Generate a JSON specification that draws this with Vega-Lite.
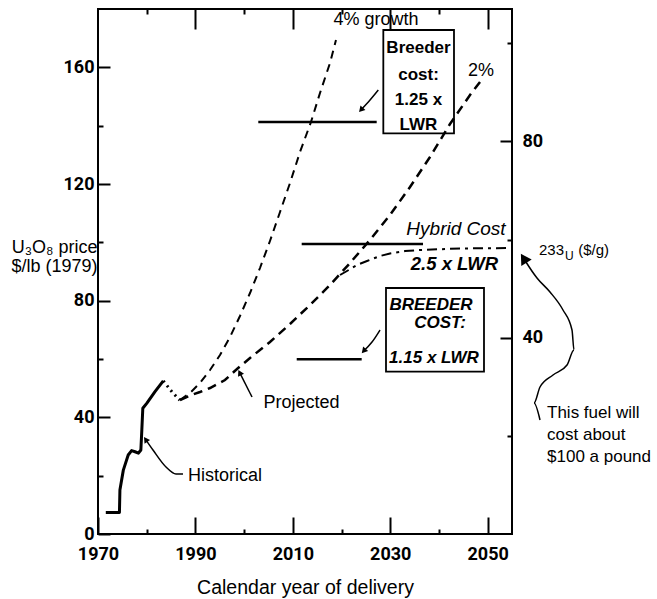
{
  "$schema": "https://vega.github.io/schema/vega-lite/v6.json",
  "width": 414,
  "height": 525,
  "autosize": "none",
  "padding": {"left": 98, "top": 9, "right": 145, "bottom": 65},
  "background": "white",
  "config": {
    "view": {"stroke": "black", "strokeWidth": 2},
    "font": "Liberation Sans",
    "text": {"font": "Liberation Sans", "color": "black"},
    "axis": {"domain": false, "grid": false, "ticks": true, "tickColor": "black", "tickWidth": 2, "labelColor": "black", "titleColor": "black", "zindex": 1}
  },
  "datasets": {
    "hist": [
      {"year": 1971.6, "price": 7.4}, {"year": 1974.4, "price": 7.4}, {"year": 1974.5, "price": 15.1},
      {"year": 1975.2, "price": 21.9}, {"year": 1976.2, "price": 27.1}, {"year": 1976.9, "price": 28.6},
      {"year": 1977.6, "price": 28.2}, {"year": 1978.3, "price": 27.7}, {"year": 1978.8, "price": 28.8},
      {"year": 1979.0, "price": 35.7}, {"year": 1979.2, "price": 43.1}, {"year": 1980.0, "price": 44.8},
      {"year": 1981.7, "price": 48.8}, {"year": 1983.4, "price": 52.5}
    ],
    "link": [
      {"year": 1983.4, "price": 52.5}, {"year": 1985.2, "price": 48.7}, {"year": 1986.8, "price": 45.9}
    ],
    "g4": [
      {"year": 1986.84, "price": 45.94}, {"year": 1988.89, "price": 48.34}, {"year": 1990.94, "price": 51.77},
      {"year": 1993.0, "price": 56.23}, {"year": 1995.05, "price": 61.37}, {"year": 1997.1, "price": 67.54},
      {"year": 1999.15, "price": 74.74}, {"year": 2001.21, "price": 82.63}, {"year": 2003.26, "price": 91.2},
      {"year": 2005.31, "price": 100.46}, {"year": 2007.37, "price": 110.4}, {"year": 2009.42, "price": 120.34},
      {"year": 2011.47, "price": 130.97}, {"year": 2013.73, "price": 141.26}, {"year": 2015.58, "price": 151.2},
      {"year": 2017.63, "price": 161.48}, {"year": 2018.86, "price": 169.37}
    ],
    "g2": [
      {"year": 1986.84, "price": 45.94}, {"year": 1988.89, "price": 47.49}, {"year": 1990.94, "price": 48.69},
      {"year": 1993.0, "price": 50.06}, {"year": 1996.07, "price": 52.8}, {"year": 1998.54, "price": 56.57},
      {"year": 2001.21, "price": 60.34}, {"year": 2005.31, "price": 65.83}, {"year": 2009.42, "price": 72.0},
      {"year": 2013.52, "price": 78.51}, {"year": 2017.63, "price": 85.37}, {"year": 2021.74, "price": 92.91},
      {"year": 2025.84, "price": 100.8}, {"year": 2029.95, "price": 109.37}, {"year": 2034.06, "price": 118.97},
      {"year": 2038.16, "price": 129.26}, {"year": 2042.27, "price": 140.57}, {"year": 2046.38, "price": 150.51},
      {"year": 2049.04, "price": 156.34}
    ],
    "hyb": [
      {"year": 2019.69, "price": 88.8}, {"year": 2021.12, "price": 90.17}, {"year": 2023.18, "price": 92.23},
      {"year": 2025.23, "price": 93.6}, {"year": 2027.9, "price": 95.31}, {"year": 2029.95, "price": 96.17},
      {"year": 2033.03, "price": 97.03}, {"year": 2036.11, "price": 97.37}, {"year": 2044.32, "price": 97.89},
      {"year": 2055.0, "price": 98.06}
    ],
    "costs": [
      {"name": "Hybrid", "year": 2011.82, "year2": 2036.73, "price": 99.43},
      {"name": "Breeder 1.25", "year": 2002.91, "year2": 2027.22, "price": 141.26},
      {"name": "Breeder 1.15", "year": 2010.8, "year2": 2024.14, "price": 59.9}
    ],
    "boxes": [
      {"year": 2028.58, "year2": 2043.09, "price": 172.8, "price2": 137.38},
      {"year": 2029.13, "year2": 2049.25, "price": 84.34, "price2": 55.64}
    ],
    "arrows": [
      {"id": "h", "i": 0, "year": 1987.45, "price": 20.57}, {"id": "h", "i": 1, "year": 1986.01, "price": 20.57},
      {"id": "h", "i": 2, "year": 1983.96, "price": 22.97}, {"id": "h", "i": 3, "year": 1981.29, "price": 28.8},
      {"id": "h", "i": 4, "year": 1979.78, "price": 32.4},
      {"id": "p", "i": 0, "year": 2001.62, "price": 46.97}, {"id": "p", "i": 1, "year": 1999.09, "price": 55.3},
      {"id": "b1", "i": 0, "year": 2027.55, "price": 152.23}, {"id": "b1", "i": 1, "year": 2025.85, "price": 148.8},
      {"id": "b1", "i": 2, "year": 2024.0, "price": 145.4},
      {"id": "b2", "i": 0, "year": 2027.9, "price": 69.94}, {"id": "b2", "i": 1, "year": 2026.26, "price": 65.83},
      {"id": "b2", "i": 2, "year": 2024.55, "price": 62.74},
      {"id": "big", "i": 0, "year": 2060.75, "price": 39.09}, {"id": "big", "i": 1, "year": 2059.52, "price": 44.91},
      {"id": "big", "i": 2, "year": 2060.75, "price": 50.4}, {"id": "big", "i": 3, "year": 2063.42, "price": 54.51},
      {"id": "big", "i": 4, "year": 2066.3, "price": 57.94}, {"id": "big", "i": 5, "year": 2067.73, "price": 63.08},
      {"id": "big", "i": 6, "year": 2067.32, "price": 69.94}, {"id": "big", "i": 7, "year": 2065.47, "price": 76.8},
      {"id": "big", "i": 8, "year": 2062.8, "price": 82.97}, {"id": "big", "i": 9, "year": 2060.13, "price": 87.77},
      {"id": "big", "i": 10, "year": 2057.87, "price": 93.26}, {"id": "big", "i": 11, "year": 2057.4, "price": 94.52}
    ],
    "heads": [
      {"year": 1979.78, "price": 32.4, "dir": 325},
      {"year": 1999.09, "price": 55.3, "dir": 333},
      {"year": 2024.0, "price": 145.4, "dir": 222},
      {"year": 2024.55, "price": 62.74, "dir": 222}
    ],
    "bighead": [
      {"year": 2057.4, "price": 94.52, "dir": 328}
    ],
    "labels": [
      {"t": "4% growth", "year": 2027.08, "price": 176.23},
      {"t": "2%", "year": 2048.63, "price": 158.74},
      {"t": "Projected", "year": 2011.78, "price": 44.91},
      {"t": "Historical", "year": 1996.07, "price": 19.89}
    ],
    "box1text": [
      {"t": "Breeder", "year": 2035.8, "price": 166.63},
      {"t": "cost:", "year": 2035.8, "price": 157.37},
      {"t": "1.25 x", "year": 2035.8, "price": 148.8},
      {"t": "LWR", "year": 2035.8, "price": 140.23}
    ],
    "hand": [
      {"t": "BREEDER", "year": 2038.37, "price": 78.51},
      {"t": "COST:", "year": 2040.22, "price": 72.34},
      {"t": "1.15 x LWR", "year": 2038.98, "price": 60.34}
    ],
    "hand2": [
      {"t": "2.5 x LWR", "year": 2043.19, "price": 92.57}
    ],
    "hybridlabel": [
      {"t": "Hybrid Cost", "year": 2043.5, "price": 104.57}
    ],
    "right": [
      {"t": "This fuel will", "year": 2062.19, "price": 41.49},
      {"t": "cost about", "year": 2062.19, "price": 33.94},
      {"t": "$100 a pound", "year": 2062.19, "price": 26.4}
    ],
    "unit": [
      {"t": "233", "year": 2060.54, "price": 97.37},
      {"t": "($/g)", "year": 2068.6, "price": 97.37}
    ],
    "sub": [
      {"t": "U", "year": 2065.9, "price": 95.3}
    ],
    "dummy": [
      {"year": 2000, "u": 50, "price": 50}
    ]
  },
  "layer": [
    {
      "encoding": {
        "x": {
          "field": "year", "type": "quantitative",
          "scale": {"domain": [1970, 2055], "nice": false, "zero": false},
          "axis": {
            "orient": "bottom",
            "values": [1970, 1990, 2010, 2030, 2050],
            "format": "d",
            "offset": -17, "tickSize": 17,
            "labelFlush": false,
            "labelPadding": 11,
            "labelFont": "Roboto", "labelFontSize": 18, "labelFontWeight": "bold",
            "title": "Calendar year of delivery",
            "titleFont": "Liberation Sans", "titleFontSize": 19.5, "titleFontWeight": "normal",
            "titlePadding": 15
          }
        },
        "y": {
          "field": "price", "type": "quantitative",
          "scale": {"domain": [0, 180], "nice": false, "zero": true},
          "axis": {
            "orient": "left",
            "values": [0, 40, 80, 120, 160],
            "offset": -12, "tickSize": 12,
            "labelPadding": 4,
            "labelFont": "Roboto", "labelFontSize": 18, "labelFontWeight": "bold",
            "title": ["U₃O₈ price", "$/lb (1979)"],
            "titleFont": "Liberation Sans", "titleFontSize": 18, "titleFontWeight": "normal",
            "titleAngle": 0, "titleAlign": "right", "titleBaseline": "top",
            "titleX": -13, "titleY": 229, "titleLineHeight": 19
          }
        }
      },
      "layer": [
        {"data": {"name": "hist"}, "mark": {"type": "line", "color": "black", "strokeWidth": 3, "strokeJoin": "round"}},
        {"data": {"name": "link"}, "mark": {"type": "line", "color": "black", "strokeWidth": 3, "strokeDash": [2, 4]}},
        {"data": {"name": "g4"}, "mark": {"type": "line", "color": "black", "strokeWidth": 2, "strokeDash": [8, 6]}},
        {"data": {"name": "g2"}, "mark": {"type": "line", "color": "black", "strokeWidth": 2.5, "strokeDash": [9, 6]}},
        {"data": {"name": "hyb"}, "mark": {"type": "line", "color": "black", "strokeWidth": 2, "strokeDash": [10, 5, 3, 5]}},
        {"data": {"name": "costs"}, "mark": {"type": "rule", "color": "black", "strokeWidth": 2.5},
         "encoding": {"x2": {"field": "year2"}}},
        {"data": {"name": "boxes"}, "mark": {"type": "rect", "filled": false, "stroke": "black", "strokeWidth": 1.8},
         "encoding": {"x2": {"field": "year2"}, "y2": {"field": "price2"}}},
        {"data": {"name": "arrows"}, "mark": {"type": "line", "color": "black", "strokeWidth": 1.5, "interpolate": "monotone"},
         "encoding": {"detail": {"field": "id"}, "order": {"field": "i", "type": "quantitative"}}},
        {"data": {"name": "heads"}, "mark": {"type": "point", "shape": "triangle-up", "filled": true, "color": "black", "size": 45, "opacity": 1},
         "encoding": {"angle": {"field": "dir", "type": "quantitative", "scale": null}}},
        {"data": {"name": "bighead"}, "mark": {"type": "point", "shape": "triangle-up", "filled": true, "color": "black", "size": 150, "opacity": 1},
         "encoding": {"angle": {"field": "dir", "type": "quantitative", "scale": null}}},
        {"data": {"name": "labels"}, "mark": {"type": "text", "fontSize": 18, "align": "center", "baseline": "middle"},
         "encoding": {"text": {"field": "t"}}},
        {"data": {"name": "box1text"}, "mark": {"type": "text", "fontSize": 17, "fontWeight": "bold", "align": "center", "baseline": "middle"},
         "encoding": {"text": {"field": "t"}}},
        {"data": {"name": "hand"}, "mark": {"type": "text", "fontSize": 17, "fontWeight": "bold", "fontStyle": "italic", "align": "center", "baseline": "middle"},
         "encoding": {"text": {"field": "t"}}},
        {"data": {"name": "hand2"}, "mark": {"type": "text", "fontSize": 18.5, "fontWeight": "bold", "fontStyle": "italic", "align": "center", "baseline": "middle"},
         "encoding": {"text": {"field": "t"}}},
        {"data": {"name": "hybridlabel"}, "mark": {"type": "text", "fontSize": 19, "fontStyle": "italic", "align": "center", "baseline": "middle"},
         "encoding": {"text": {"field": "t"}}},
        {"data": {"name": "right"}, "mark": {"type": "text", "fontSize": 17, "align": "left", "baseline": "middle"},
         "encoding": {"text": {"field": "t"}}},
        {"data": {"name": "unit"}, "mark": {"type": "text", "fontSize": 15, "align": "left", "baseline": "middle"},
         "encoding": {"text": {"field": "t"}}},
        {"data": {"name": "sub"}, "mark": {"type": "text", "fontSize": 12, "align": "left", "baseline": "middle"},
         "encoding": {"text": {"field": "t"}}}
      ]
    },
    {
      "data": {"name": "dummy"},
      "mark": {"type": "point", "opacity": 0},
      "encoding": {
        "x": {
          "field": "year", "type": "quantitative",
          "scale": {"domain": [1970, 2055], "nice": false, "zero": false},
          "axis": {"orient": "top", "values": [1990, 2010, 2030, 2050], "labels": false, "offset": -20, "tickSize": 20, "title": null}
        },
        "y": {
          "field": "u", "type": "quantitative",
          "scale": {"domain": [0, 107], "nice": false, "zero": true},
          "axis": {
            "orient": "right", "values": [40, 80], "offset": -12, "tickSize": 12, "labelPadding": 10,
            "labelFont": "Roboto", "labelFontSize": 18, "labelFontWeight": "bold", "title": null
          }
        }
      }
    },
    {
      "data": {"name": "dummy"},
      "mark": {"type": "point", "opacity": 0},
      "encoding": {
        "x": {
          "field": "year", "type": "quantitative",
          "scale": {"domain": [1970, 2055], "nice": false, "zero": false},
          "axis": {"orient": "bottom", "values": [1980, 2000, 2020, 2040], "labels": false, "offset": -5, "tickSize": 5, "title": null}
        },
        "y": {
          "field": "price", "type": "quantitative",
          "scale": {"domain": [0, 180], "nice": false, "zero": true},
          "axis": {"orient": "left", "values": [20, 60, 100, 140], "labels": false, "offset": -5, "tickSize": 5, "title": null}
        }
      }
    },
    {
      "data": {"name": "dummy"},
      "mark": {"type": "point", "opacity": 0},
      "encoding": {
        "x": {
          "field": "year", "type": "quantitative",
          "scale": {"domain": [1970, 2055], "nice": false, "zero": false},
          "axis": {"orient": "top", "values": [1980, 2000, 2020, 2040], "labels": false, "offset": -5, "tickSize": 5, "title": null}
        },
        "y": {
          "field": "u", "type": "quantitative",
          "scale": {"domain": [0, 107], "nice": false, "zero": true},
          "axis": {"orient": "right", "values": [20, 60, 100], "labels": false, "offset": -5, "tickSize": 5, "title": null}
        }
      }
    }
  ],
  "resolve": {
    "scale": {"x": "independent", "y": "independent"},
    "axis": {"x": "independent", "y": "independent"}
  }
}
